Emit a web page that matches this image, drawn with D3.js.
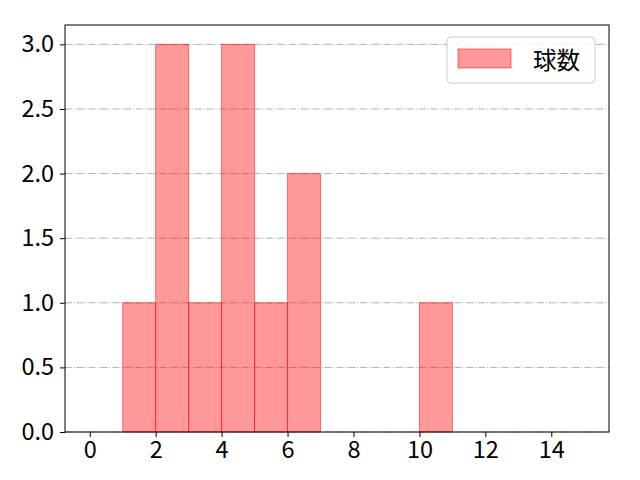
<!DOCTYPE html>
<html>
<head>
<meta charset="utf-8">
<script src="https://cdn.jsdelivr.net/npm/d3@7"></script>
<style>
  body { margin: 0; background: #fff; }
  text { font-family: "Noto Sans CJK JP", "Noto Sans", sans-serif; }
</style>
</head>
<body>
<div id="chart"></div>
<script>
// bins (left edge, width 1) and counts
const BIN_STARTS = [1, 2, 3, 4, 5, 6, 10];
const BIN_COUNTS = [1, 3, 1, 3, 1, 2, 1];
const X_TICKS = [0, 2, 4, 6, 8, 10, 12, 14];
const Y_TICKS = [0, 0.5, 1.0, 1.5, 2.0, 2.5, 3.0];
const SERIES_NAME = "球数";

var FONT_SIZE = "23.5px";
var margin = {top: 25, right: 31, bottom: 48, left: 65};
var width = 640 - margin.left - margin.right;
var height = 480 - margin.top - margin.bottom;

var svg = d3.select("#chart")
  .append("svg")
    .attr("width", 640)
    .attr("height", 480)
  .append("g")
    .attr("transform", "translate(" + margin.left + "," + margin.top + ")");

var x = d3.scaleLinear().domain([-0.75, 15.75]).range([0, width]);
var y = d3.scaleLinear().domain([0, 3.15]).range([height, 0]);

// horizontal grid
svg.append("g")
  .selectAll("line")
  .data(Y_TICKS)
  .enter()
  .append("line")
    .attr("x1", 0)
    .attr("x2", width)
    .attr("y1", function (d) { return y(d); })
    .attr("y2", function (d) { return y(d); })
    .attr("stroke", "#b0b0b0")
    .attr("stroke-width", 1)
    .attr("stroke-dasharray", "7,1.8,1.2,1.8");

// bars
svg.append("g")
  .selectAll("rect")
  .data(BIN_STARTS)
  .enter()
  .append("rect")
    .attr("x", function (d) { return x(d); })
    .attr("y", function (d, i) { return y(BIN_COUNTS[i]); })
    .attr("width", function (d) { return x(d + 1) - x(d); })
    .attr("height", function (d, i) { return height - y(BIN_COUNTS[i]); })
    .attr("fill", "rgba(255,0,0,0.4)")
    .attr("stroke", "rgba(255,0,0,0.5)")
    .attr("stroke-width", 1);

// axes
var xAxis = svg.append("g")
  .attr("transform", "translate(0," + height + ")")
  .call(d3.axisBottom(x).tickValues(X_TICKS).tickFormat(d3.format("d")).tickSize(5).tickPadding(4));
var yAxis = svg.append("g")
  .call(d3.axisLeft(y).tickValues(Y_TICKS).tickFormat(d3.format(".1f")).tickSize(5).tickPadding(6));
[xAxis, yAxis].forEach(function (a) {
  a.select(".domain").remove();
  a.attr("font-size", null).attr("font-family", null);
  a.selectAll("text")
    .style("font-size", FONT_SIZE)
    .style("font-family", "'Noto Sans CJK JP', sans-serif")
    .attr("fill", "#000");
  a.selectAll("line").attr("stroke", "#000").attr("stroke-width", 1);
});

// frame
svg.append("rect")
  .attr("width", width)
  .attr("height", height)
  .attr("fill", "none")
  .attr("stroke", "#000")
  .attr("stroke-width", 1);

// legend
var lg = svg.append("g").attr("transform", "translate(" + (width - 162) + ",12)");
lg.append("rect")
  .attr("width", 148).attr("height", 46)
  .attr("rx", 4)
  .attr("fill", "rgba(255,255,255,0.8)")
  .attr("stroke", "#ccc");
lg.append("rect")
  .attr("x", 11).attr("y", 12).attr("width", 53).attr("height", 19)
  .attr("fill", "rgba(255,0,0,0.4)")
  .attr("stroke", "rgba(255,0,0,0.5)");
lg.append("text")
  .attr("x", 86).attr("y", 22)
  .attr("dominant-baseline", "central")
  .style("font-size", FONT_SIZE)
  .text(SERIES_NAME);
</script>
</body>
</html>
